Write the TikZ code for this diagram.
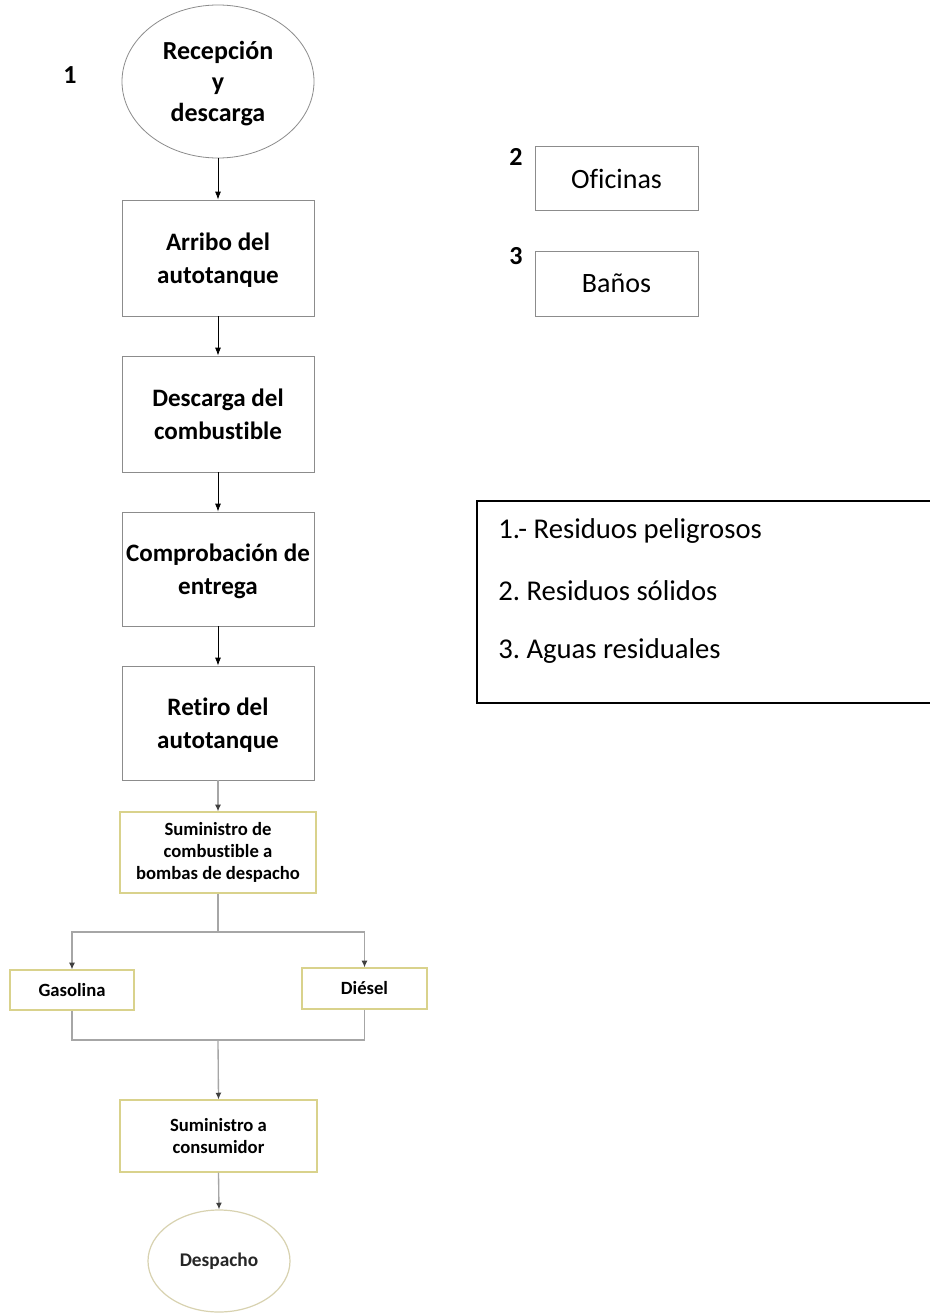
\documentclass[tikz,border=0pt]{standalone}
\usepackage{fontspec}
\setmainfont{Carlito}[Ligatures=NoCommon]
\usetikzlibrary{arrows.meta,shapes.geometric}
\definecolor{boxgray}{HTML}{8C8C8C}
\definecolor{ybord}{HTML}{D9D28C}
\definecolor{glin}{HTML}{A6A6A6}
\definecolor{ellb}{HTML}{D8D2B0}
\frenchspacing
\tikzset{
  x=0.75pt, y=-0.75pt,
  procbox/.style={draw=boxgray, line width=0.6pt, minimum width=144pt, minimum height=87pt, align=center, inner sep=0pt, text depth=0pt, font=\fontsize{18.8pt}{24.5pt}\selectfont\bfseries},
  ybox/.style={draw=ybord, line width=0.9pt, align=center, inner sep=0pt, font=\fontsize{14pt}{16.5pt}\selectfont\bfseries},
  sidebox/.style={draw=boxgray, line width=0.6pt, minimum width=122.25pt, minimum height=47.5pt, inner sep=0pt, font=\fontsize{21pt}{25pt}\selectfont},
  numlab/.style={font=\fontsize{19.5pt}{23pt}\selectfont\bfseries, inner sep=0pt},
  legtext/.style={anchor=west, inner sep=0pt, font=\fontsize{21.5pt}{25pt}\selectfont},
  arr/.style={draw=black, line width=0.6pt, -{Latex[length=6pt,width=4.5pt]}},
  garr/.style={draw=glin, line width=1pt, -{Latex[length=5pt,width=4.5pt,color=black!75]}},
  gline/.style={draw=glin, line width=1pt},
}
\begin{document}
\begin{tikzpicture}
\useasboundingbox[fill=white] (0,0) rectangle (929,1313);
% left chain
\node[ellipse, draw=boxgray, line width=0.6pt, minimum width=144pt, minimum height=114.75pt, inner sep=0pt, text depth=0pt, align=center, font=\fontsize{19.5pt}{23.3pt}\selectfont\bfseries] (e1) at (218,81.5) {Recepción\\y\\descarga};
\node[numlab] (n1) at (70,75) {1};
\node[procbox] (b1) at (218,258) {Arribo del\\autotanque};
\node[procbox] (b2) at (218,414) {Descarga del\\combustible};
\node[procbox, minimum height=85.5pt] (b3) at (218,569) {Comprobación de\\entrega};
\node[procbox, minimum height=85.5pt] (b4) at (218,723) {Retiro del\\autotanque};
\draw[arr] (e1.south) -- (b1.north);
\draw[arr] (b1.south) -- (b2.north);
\draw[arr] (b2.south) -- (b3.north);
\draw[arr] (b3.south) -- (b4.north);
% lower part
\node[ybox, minimum width=147pt, minimum height=60.75pt] (y1) at (218,852.5) {Suministro de\\combustible a\\bombas de despacho};
\node[ybox, minimum width=93pt, minimum height=30pt] (gas) at (72,990) {Gasolina};
\node[ybox, minimum width=93.75pt, minimum height=30.75pt] (die) at (364.5,988.5) {Diésel};
\node[ybox, minimum width=147.75pt, minimum height=54pt] (y2) at (218.5,1136) {Suministro a\\consumidor};
\node[ellipse, draw=ellb, line width=0.9pt, minimum width=106.5pt, minimum height=76.5pt, inner sep=0pt, font=\fontsize{14.5pt}{17pt}\selectfont\bfseries, text=black!85] (desp) at (219,1261) {Despacho};
\coordinate (j1) at (218,932);
\coordinate (j2) at (218,1040);
\draw[garr] (b4.south) -- (y1.north);
\draw[gline] (y1.south) -- (j1);
\draw[garr] (j1) -| (gas.north);
\draw[garr] (j1) -| (die.north);
\draw[gline] (gas.south) |- (j2);
\draw[gline] (die.south) |- (j2);
\draw[garr] (j2) -- (y2.north);
\draw[garr] (y2.south) -- (desp.north);
% right side
\node[numlab] (n2) at (516,157) {2};
\node[sidebox] (of) at (616.5,178.5) {Oficinas};
\node[numlab] (n3) at (516,256) {3};
\node[sidebox, minimum height=48.75pt] (ba) at (616.5,283.5) {Baños};
\node[draw=black, line width=1.5pt, minimum width=341.25pt, minimum height=151.5pt, inner sep=0pt] (leg) at (704.5,602) {};
\node[legtext] (l1) at (498,531) {1.- Residuos peligrosos};
\node[legtext] (l2) at (498,591) {2. Residuos sólidos};
\node[legtext] (l3) at (498,651) {3. Aguas residuales};
\end{tikzpicture}
\end{document}
